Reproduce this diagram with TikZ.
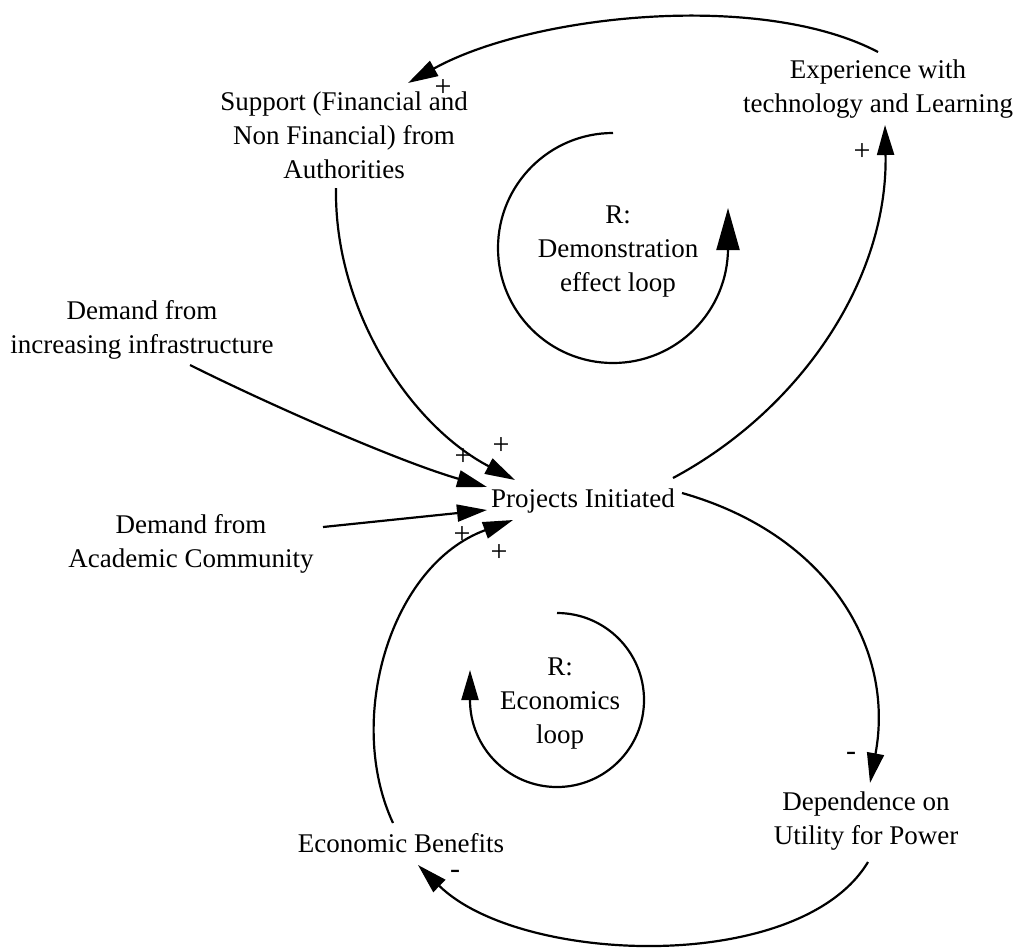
\documentclass[tikz,border=0pt]{standalone}
\usepackage{fontspec}
\setmainfont{Liberation Serif}
\usetikzlibrary{arrows.meta,calc}
\begin{document}
\begin{tikzpicture}[x=1pt,y=-1pt,
  var/.style={font=\fontsize{27}{34}\selectfont, align=center, anchor=base, inner sep=0pt},
  pol/.style={font=\fontsize{30}{30}\selectfont, inner sep=0pt},
  link/.style={line width=2.2pt, -{Triangle[length=30pt,width=17pt]}},
  loopbig/.style={line width=2.2pt, -{Triangle[length=42pt,width=23pt]}},
  loopsmall/.style={line width=2.2pt, -{Triangle[length=30pt,width=17pt]}}]
\useasboundingbox (0,0) rectangle (1019,951);

% variables (anchored at the baseline of their last line)
\node[var] (exp)   at (878,112) {Experience with\\technology and Learning};
\node[var] (sup)   at (344,178) {Support (Financial and\\Non Financial) from\\Authorities};
\node[var] (infra) at (142,353) {Demand from\\increasing infrastructure};
\node[var] (proj)  at (583,507) {Projects Initiated};
\node[var] (acad)  at (191,567) {Demand from\\Academic Community};
\node[var] (dep)   at (866,844) {Dependence on\\Utility for Power};
\node[var] (eb)    at (401,852) {Economic Benefits};

% loop labels
\node[var] (rtop) at (618,291) {R:\\Demonstration\\effect loop};
\node[var] (rbot) at (560,743) {R:\\Economics\\loop};

% causal links
\draw[link] ($(exp.base)+(0,-60)$) .. controls +(-118,-62) and +(122,-68) .. ($(sup.base)+(64,-95)$);
\draw[link] ($(proj.base)+(90,-29)$) .. controls +(127,-68) and +(3,155) .. ($(exp.base)+(7,13)$);
\draw[link] ($(sup.base)+(-8,10)$) .. controls +(-2,122) and +(-105,-55) .. ($(proj.base)+(-68,-27)$);
\draw[link] ($(infra.base)+(48,12)$) .. controls +(80,40) and +(-87,-25) .. ($(proj.base)+(-96,-20)$);
\draw[link] ($(acad.base)+(132,-40)$) -- ($(proj.base)+(-96,3)$);
\draw[link] ($(eb.base)+(-8,-29)$) .. controls +(-48,-103) and +(-123,45) .. ($(proj.base)+(-70,13)$);
\draw[link] ($(proj.base)+(99,-14)$) .. controls +(148,42) and +(25,-133) .. ($(dep.base)+(4,-61)$);
\draw[link] ($(dep.base)+(2,18)$) .. controls +(-68,113) and +(102,100) .. ($(eb.base)+(17,13)$);

% loop symbols
\draw[loopbig] ($(rtop.base)+(-5,-158)$) arc[start angle=270, end angle=0, radius=115] -- ++(0,-40);
\draw[loopsmall] ($(rbot.base)+(-3,-130)$) arc[start angle=270, end angle=540, radius=87] -- ++(0,-30);

% polarities
\node[pol] (p1) at (443,88)  {+};
\node[pol] (p2) at (862,152) {+};
\node[pol] (p3) at (501,446) {+};
\node[pol] (p4) at (463,457) {+};
\node[pol] (p5) at (462,535) {+};
\node[pol] (p6) at (499,553) {+};
\node[pol] (m1) at (851,756) {-};
\node[pol] (m2) at (455,874) {-};
\end{tikzpicture}
\end{document}
